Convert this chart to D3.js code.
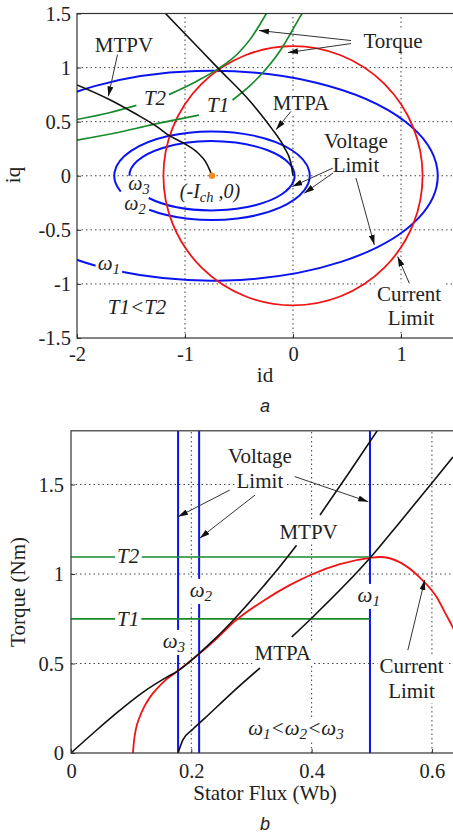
<!DOCTYPE html>
<html>
<head>
<meta charset="utf-8">
<script src="https://cdnjs.cloudflare.com/ajax/libs/d3/7.8.5/d3.min.js"></script>
<style>
  body { margin: 0; background: #fff; }
  svg text { font-family: 'Liberation Serif', 'Times New Roman', serif; fill: #222; }
</style>
</head>
<body>
<div id="vis"></div>
<script>
// ---------------- data, panel a (id - iq plane) ----------------
const idTicks = [-2, -1, 0, 1];
const iqTicks = [-1.5, -1, -0.5, 0, 0.5, 1, 1.5];

const currentLimitRadius = 1.2;
const ellipseCentre = -0.75;          // (-Ich, 0)
// voltage limit ellipses: semi axes and the visible arc (degrees)
const voltageEllipses = [
    { name: 'w1', a: 2.09, b: 0.97, from: -114, to: 239 },
    { name: 'w2', a: 0.905, b: 0.41, from: -130, to: 201 },
    { name: 'w3', a: 0.765, b: 0.32, from: -140, to: 180 }
];

const mtpvA = [[-2, 0.84], [-1.71, 0.71], [-1.47, 0.58], [-1.24, 0.44], [-1.16, 0.38],
    [-1.01, 0.30], [-0.88, 0.21], [-0.81, 0.13], [-0.77, 0.05], [-0.75, 0]];
const mtpaA = [[-1.19, 1.51], [-0.94, 1.25], [-0.69, 0.99], [-0.39, 0.68], [-0.20, 0.44],
    [-0.08, 0.26], [-0.02, 0.12], [0, 0]];
const torqueT2A = [[-2, 0.52], [-1.71, 0.58], [-1.45, 0.65], null, [-1.15, 0.75], [-0.90, 0.87],
    [-0.69, 0.99], [-0.51, 1.13], [-0.39, 1.27], [-0.30, 1.41], [-0.24, 1.51]];
const torqueT1A = [[-2, 0.33], [-1.62, 0.40], [-1.31, 0.47], [-0.87, 0.56], null, [-0.56, 0.70],
    [-0.39, 0.84], [-0.23, 1.01], [-0.11, 1.17], [-0.02, 1.32], [0.06, 1.46], [0.09, 1.51]];

// ---------------- data, panel b (torque - flux plane) ----------------
const fluxTicks = [0, 0.2, 0.4, 0.6];
const torqueTicks = [0, 0.5, 1, 1.5];

const voltageFlux = [0.178, 0.213, 0.497];     // w3, w2, w1
const torqueLevels = [0.749, 1.095];           // T1, T2
const torqueLevelEnd = 0.497;

const mtpvB = [[0, 0], [0.04, 0.12], [0.08, 0.235], [0.12, 0.34], [0.16, 0.425], [0.176, 0.455],
    [0.211, 0.55], [0.24, 0.64], [0.272, 0.75], [0.322, 0.94], [0.347, 1.04], [0.375, 1.16], null,
    [0.414, 1.33], [0.463, 1.57], [0.513, 1.82]];
const mtpaB = [[0.178, 0], [0.186, 0.073], [0.201, 0.128], [0.223, 0.196], [0.267, 0.335],
    [0.314, 0.475], null, [0.367, 0.648], [0.402, 0.760], [0.497, 1.089], [0.547, 1.291],
    [0.600, 1.508], [0.635, 1.654]];
const currentLimitB = [[0.103, 0], [0.1045, 0.06], [0.108, 0.135], [0.114, 0.2], [0.122, 0.26],
    [0.132, 0.315], [0.143, 0.36], [0.158, 0.41], [0.176, 0.455], [0.211, 0.548], [0.244, 0.645],
    [0.272, 0.735], [0.322, 0.855], [0.362, 0.935], [0.402, 1.0], [0.447, 1.055], [0.497, 1.09],
    [0.513, 1.095], [0.547, 1.065], [0.580, 0.98], [0.608, 0.87], [0.624, 0.77], [0.635, 0.70],
    [0.645, 0.62]];

// ---------------- colours ----------------
const blue = '#0a14f0', red = '#f01414', green = '#178a2c', black = '#111';

// svg
const svg = d3.select('#vis')
    .append('svg')
    .attr('width', 453)
    .attr('height', 834);

svg.append('rect').attr('width', 453).attr('height', 834).attr('fill', '#fff');

const defs = svg.append('defs');
defs.append('marker')
    .attr('id', 'arrow')
    .attr('viewBox', '0 0 10 6')
    .attr('refX', 10).attr('refY', 3)
    .attr('markerWidth', 10).attr('markerHeight', 6)
    .attr('markerUnits', 'userSpaceOnUse')
    .attr('orient', 'auto')
    .append('path')
    .attr('d', 'M0,0L10,3L0,6Z')
    .attr('fill', '#111');

// scales
const xA = d3.scaleLinear().domain([-2, 1.5]).range([77, 455]);
const yA = d3.scaleLinear().domain([-1.5, 1.5]).range([338, 13.5]);
const xB = d3.scaleLinear().domain([0, 0.65]).range([71, 462]);
const yB = d3.scaleLinear().domain([0, 1.8]).range([753, 430.8]);

function addClip(id, x, y) {
    defs.append('clipPath').attr('id', id)
        .append('rect')
        .attr('x', x.range()[0]).attr('y', y.range()[1])
        .attr('width', x.range()[1] - x.range()[0])
        .attr('height', y.range()[0] - y.range()[1]);
}
addClip('clipA', xA, yA);
addClip('clipB', xB, yB);

function drawAxes(x, y, xt, yt, padX, padY) {
    const g = svg.append('g');
    // grid
    g.selectAll('.vgrid').data(xt.filter(d => d !== x.domain()[0]))
        .join('line')
        .attr('x1', d => x(d)).attr('x2', d => x(d))
        .attr('y1', y.range()[0]).attr('y2', y.range()[1])
        .attr('stroke', '#444').attr('stroke-width', 1).attr('stroke-dasharray', '1.5,3');
    g.selectAll('.hgrid').data(yt.filter(d => d !== y.domain()[0] && d !== y.domain()[1]))
        .join('line')
        .attr('y1', d => y(d)).attr('y2', d => y(d))
        .attr('x1', x.range()[0]).attr('x2', x.range()[1])
        .attr('stroke', '#444').attr('stroke-width', 1).attr('stroke-dasharray', '1.5,3');

    const xAxis = d3.axisBottom(x).tickValues(xt).tickFormat(d => String(d))
        .tickSizeInner(-4).tickSizeOuter(0).tickPadding(padX);
    const gx = svg.append('g').attr('class', 'axis')
        .attr('transform', `translate(0,${y.range()[0]})`)
        .call(xAxis);
    const yAxis = d3.axisLeft(y).tickValues(yt).tickFormat(d => String(d))
        .tickSizeInner(-4).tickSizeOuter(0).tickPadding(padY);
    const gy = svg.append('g').attr('class', 'axis')
        .attr('transform', `translate(${x.range()[0]},0)`)
        .call(yAxis);
    [gx, gy].forEach(a => {
        a.select('.domain').remove();
        a.selectAll('line').attr('stroke', '#333');
        a.selectAll('text').style('font-size', '20.5px')
            .style('font-family', "'Liberation Serif', serif").attr('fill', '#222');
    });
    return g;
}

function drawFrame(x, y) {
    svg.append('rect')
        .attr('x', x.range()[0]).attr('y', y.range()[1])
        .attr('width', x.range()[1] - x.range()[0])
        .attr('height', y.range()[0] - y.range()[1])
        .attr('fill', 'none').attr('stroke', '#333').attr('stroke-width', 1.2);
}

function label(x, y, d) {
    const size = d.size || 21;
    const g = svg.append('g');
    const t = g.append('text')
        .attr('x', x(d.x)).attr('y', y(d.y))
        .attr('text-anchor', 'middle')
        .style('font-size', size + 'px')
        .style('font-style', d.italic ? 'italic' : 'normal')
        .attr('fill', d.color || '#222');
    d.parts.forEach(p => {
        const s = t.append('tspan').text(p[0]);
        if (p[1] === 'sub') s.attr('dy', 4).style('font-size', (size * 0.72) + 'px');
        if (p[1] === 'up') s.attr('dy', -4);
    });
    if (d.bg !== false) {
        const b = t.node().getBBox();
        g.insert('rect', 'text')
            .attr('x', b.x - 2).attr('y', b.y + 1)
            .attr('width', b.width + 4).attr('height', b.height - 1)
            .attr('fill', '#fff');
    }
}

function arrows(x, y, list) {
    svg.append('g').selectAll('line').data(list).join('line')
        .attr('x1', d => x(d[0][0])).attr('y1', d => y(d[0][1]))
        .attr('x2', d => x(d[1][0])).attr('y2', d => y(d[1][1]))
        .attr('stroke', '#333').attr('stroke-width', 1)
        .attr('marker-end', 'url(#arrow)');
}

// ================= panel a =================
drawAxes(xA, yA, idTicks, iqTicks, 8, 6);

const plotA = svg.append('g').attr('clip-path', 'url(#clipA)');
const lineA = d3.line().defined(d => d).x(d => xA(d[0])).y(d => yA(d[1]))
    .curve(d3.curveMonotoneX);

function ellipseArc(e) {
    const rad = Math.PI / 180;
    const x1 = xA(ellipseCentre + e.a * Math.cos(e.from * rad)), y1 = yA(e.b * Math.sin(e.from * rad));
    const x2 = xA(ellipseCentre + e.a * Math.cos(e.to * rad)), y2 = yA(e.b * Math.sin(e.to * rad));
    const rx = xA(e.a) - xA(0), ry = yA(0) - yA(e.b);
    const large = (e.to - e.from) > 180 ? 1 : 0;
    return `M${x1},${y1}A${rx},${ry} 0 ${large} 0 ${x2},${y2}`;
}

plotA.selectAll('.volt').data(voltageEllipses).join('path')
    .attr('d', ellipseArc)
    .attr('fill', 'none').attr('stroke', blue).attr('stroke-width', 2);

plotA.append('circle')
    .attr('cx', xA(0)).attr('cy', yA(0))
    .attr('r', xA(currentLimitRadius) - xA(0))
    .attr('fill', 'none').attr('stroke', red).attr('stroke-width', 1.8);

[torqueT1A, torqueT2A].forEach(t => plotA.append('path')
    .attr('d', lineA(t)).attr('fill', 'none').attr('stroke', green).attr('stroke-width', 1.7));
[mtpvA, mtpaA].forEach(t => plotA.append('path')
    .attr('d', lineA(t)).attr('fill', 'none').attr('stroke', black).attr('stroke-width', 1.6));

plotA.append('circle')
    .attr('cx', xA(ellipseCentre)).attr('cy', yA(0)).attr('r', 3.2)
    .attr('fill', '#ff8a1c');

const labelsA = [
    { parts: [['MTPV']], x: -1.565, y: 1.148 },
    { parts: [['Torque']], x: 0.926, y: 1.185 },
    { parts: [['MTPA']], x: 0.074, y: 0.611 },
    { parts: [['Voltage']], x: 0.583, y: 0.259 },
    { parts: [['Limit']], x: 0.583, y: 0.037 },
    { parts: [['Current']], x: 1.074, y: -1.157 },
    { parts: [['Limit']], x: 1.093, y: -1.380 },
    { parts: [['T2']], x: -1.278, y: 0.657, italic: true },
    { parts: [['T1']], x: -0.694, y: 0.593, italic: true },
    { parts: [['T1<T2']], x: -1.444, y: -1.278, italic: true },
    { parts: [['ω'], ['1', 'sub']], x: -1.704, y: -0.87, italic: true },
    { parts: [['ω'], ['3', 'sub']], x: -1.426, y: -0.13, italic: true, bg: false, size: 20 },
    { parts: [['ω'], ['2', 'sub']], x: -1.463, y: -0.315, italic: true, bg: false, size: 20 },
    { parts: [['(-I'], ['ch', 'sub'], [' ,0)', 'up']], x: -0.769, y: -0.204, italic: true,
      color: '#f2a04c', size: 20 }
];
labelsA.forEach(d => label(xA, yA, d));

arrows(xA, yA, [
    [[-1.625, 1.12], [-1.71, 0.734]],
    [[0.537, 1.25], [-0.315, 1.343]],
    [[0.537, 1.222], [-0.046, 1.139]],
    [[-0.019, 0.595], [-0.157, 0.426]],
    [[0.37, 0.071], [-0.006, -0.1]],
    [[0.37, 0.025], [0.104, -0.161]],
    [[0.583, -0.021], [0.753, -0.639]],
    [[1.077, -0.994], [0.969, -0.747]]
]);

drawFrame(xA, yA);

svg.append('text').attr('x', 265).attr('y', 382).attr('text-anchor', 'middle')
    .style('font-size', '21px').text('id');
svg.append('text').attr('transform', 'translate(20,175) rotate(-90)').attr('text-anchor', 'middle')
    .style('font-size', '21px').text('iq');
svg.append('text').attr('x', 265).attr('y', 412).attr('text-anchor', 'middle')
    .style('font-size', '18px').style('font-style', 'italic')
    .style('font-family', "'Liberation Sans', Arial, sans-serif").text('a');

// ================= panel b =================
drawAxes(xB, yB, fluxTicks, torqueTicks, 10, 7);

const plotB = svg.append('g').attr('clip-path', 'url(#clipB)');
const lineB = d3.line().defined(d => d).x(d => xB(d[0])).y(d => yB(d[1]))
    .curve(d3.curveMonotoneX);

plotB.selectAll('.volt').data(voltageFlux).join('line')
    .attr('x1', d => xB(d)).attr('x2', d => xB(d))
    .attr('y1', yB(0)).attr('y2', yB(1.8))
    .attr('stroke', blue).attr('stroke-width', 2);

plotB.selectAll('.torque').data(torqueLevels).join('line')
    .attr('x1', xB(0)).attr('x2', xB(torqueLevelEnd))
    .attr('y1', d => yB(d)).attr('y2', d => yB(d))
    .attr('stroke', green).attr('stroke-width', 1.7);

plotB.append('path').attr('d', lineB(currentLimitB))
    .attr('fill', 'none').attr('stroke', red).attr('stroke-width', 1.8);
[mtpvB, mtpaB].forEach(t => plotB.append('path')
    .attr('d', lineB(t)).attr('fill', 'none').attr('stroke', black).attr('stroke-width', 1.6));

const labelsB = [
    { parts: [['Voltage']], x: 0.314, y: 1.620 },
    { parts: [['Limit']], x: 0.314, y: 1.480 },
    { parts: [['MTPV']], x: 0.395, y: 1.196 },
    { parts: [['MTPA']], x: 0.352, y: 0.52 },
    { parts: [['Current']], x: 0.566, y: 0.447 },
    { parts: [['Limit']], x: 0.566, y: 0.307 },
    { parts: [['ω'], ['1', 'sub'], ['<ω', 'up'], ['2', 'sub'], ['<ω', 'up'], ['3', 'sub']],
      x: 0.374, y: 0.10, italic: true },
    { parts: [['T2']], x: 0.095, y: 1.061, italic: true },
    { parts: [['T1']], x: 0.095, y: 0.709, italic: true },
    { parts: [['ω'], ['2', 'sub']], x: 0.216, y: 0.872, italic: true },
    { parts: [['ω'], ['1', 'sub']], x: 0.495, y: 0.844, italic: true },
    { parts: [['ω'], ['3', 'sub']], x: 0.171, y: 0.587, italic: true }
];
labelsB.forEach(d => label(xB, yB, d));

arrows(xB, yB, [
    [[0.264, 1.469], [0.178, 1.32]],
    [[0.306, 1.441], [0.214, 1.2]],
    [[0.372, 1.544], [0.494, 1.404]],
    [[0.560, 0.575], [0.588, 0.966]]
]);

drawFrame(xB, yB);

svg.append('text').attr('x', 265).attr('y', 800).attr('text-anchor', 'middle')
    .style('font-size', '21px').text('Stator Flux (Wb)');
svg.append('text').attr('transform', 'translate(25,592) rotate(-90)').attr('text-anchor', 'middle')
    .style('font-size', '21px').text('Torque (Nm)');
svg.append('text').attr('x', 265).attr('y', 830).attr('text-anchor', 'middle')
    .style('font-size', '18px').style('font-style', 'italic')
    .style('font-family', "'Liberation Sans', Arial, sans-serif").text('b');
</script>
</body>
</html>
